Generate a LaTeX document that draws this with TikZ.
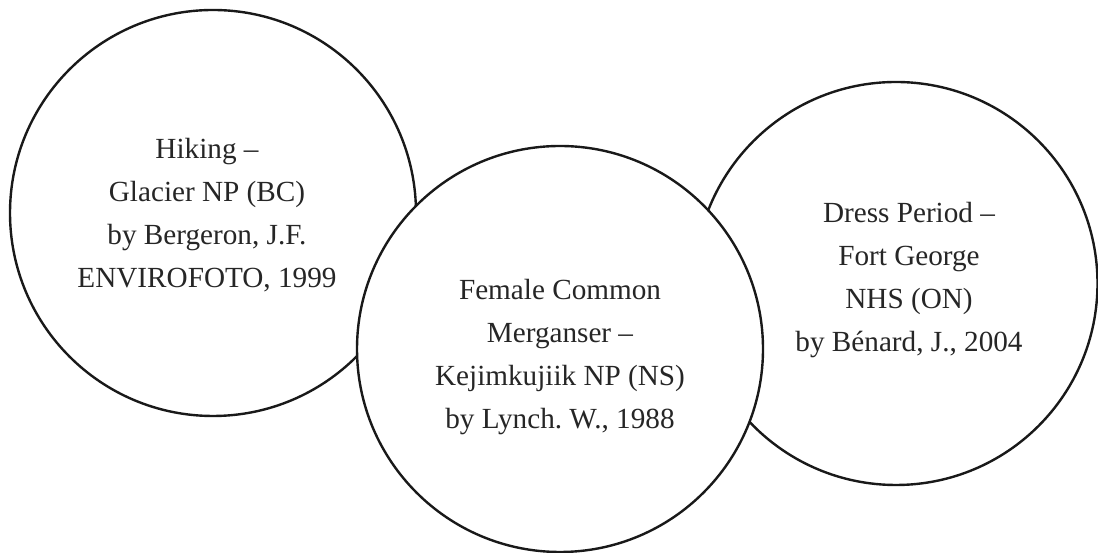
\documentclass[tikz,border=0pt]{standalone}
\usepackage{fontspec}
\setmainfont{Liberation Serif}
\frenchspacing
\begin{document}
\begin{tikzpicture}[x=1pt,y=1pt,
  disc/.style={circle,draw=black!90,line width=2.4pt,fill=white,inner sep=0pt},
  lbl/.style={align=center,font=\fontsize{29.2}{43}\selectfont,text=black!85}]
\useasboundingbox (0,0) rectangle (1098,553);
\node[disc,minimum size=406pt] (L) at (213,340) {};
\node[disc,minimum size=403pt] (R) at (896,269.5) {};
\node[disc,minimum size=406pt] (M) at (560,204) {};
\node[lbl] (tL) at (207,338) {Hiking --\\Glacier NP (BC)\\by Bergeron, J.F.\\ENVIROFOTO, 1999};
\node[lbl] (tM) at (560,196) {Female Common\\Merganser --\\Kejimkujiik NP (NS)\\by Lynch. W., 1988};
\node[lbl] (tR) at (909,272.5) {Dress Period --\\Fort George\\NHS (ON)\\by B\'enard, J., 2004};
\end{tikzpicture}
\end{document}
